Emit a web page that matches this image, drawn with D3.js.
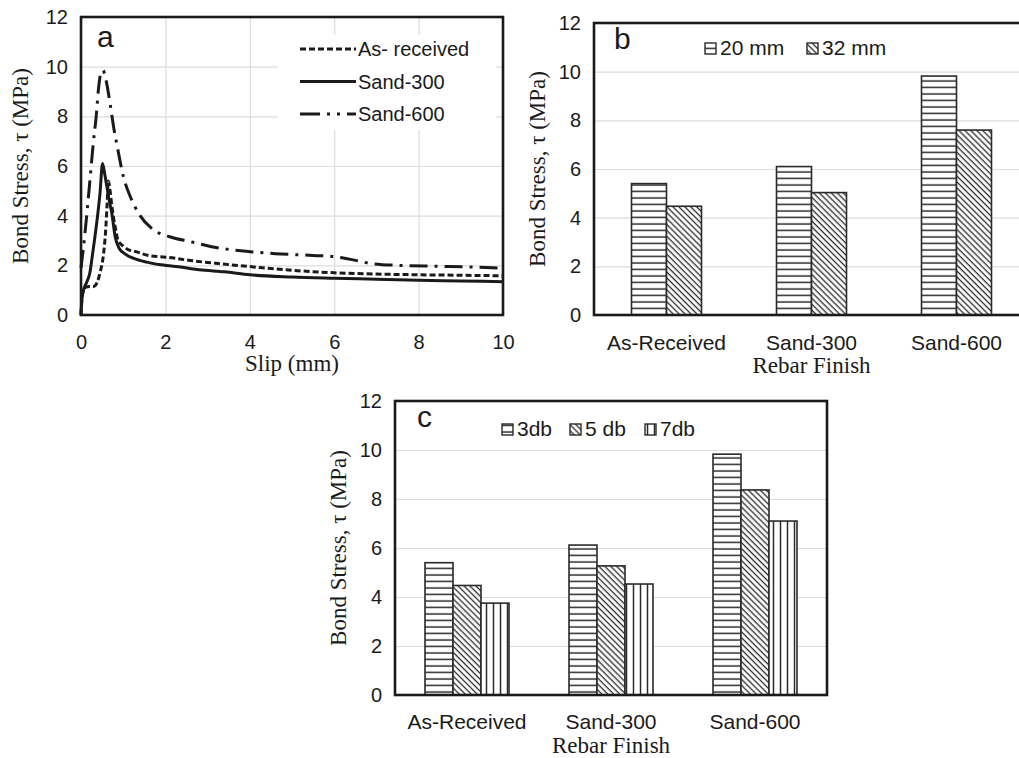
<!DOCTYPE html>
<html lang="en">
<head>
<meta charset="UTF-8">
<title>Bond stress</title>
<script src="https://d3js.org/d3.v7.min.js"></script>
<style>
  body { margin: 0; background: #fff; }
  .num text { font-family: "Liberation Sans", Arial, sans-serif; font-size: 20px; fill: #1a1a1a; }
  .cat text { font-family: "Liberation Sans", Arial, sans-serif; font-size: 21px; fill: #1a1a1a; }
  .num path, .num line, .cat path, .cat line { display: none; }
  .grid line { stroke: #dcdcdc; stroke-width: 1.2px; }
  .grid path { display: none; }
  .serif { font-family: "Liberation Serif", "Times New Roman", serif; font-size: 23px; fill: #1a1a1a; }
  .sans { font-family: "Liberation Sans", Arial, sans-serif; fill: #1a1a1a; }
</style>
</head>
<body>
<svg id="chart" width="1019" height="758"></svg>
<script>
// ---- data (a) slip curves, [slip mm, stress MPa]
const asReceived = [[0,0],[0.02,0.6],[0.06,1.0],[0.12,1.12],[0.2,1.15],[0.3,1.15],[0.38,1.3],[0.45,1.7],[0.53,2.4],[0.58,3.3],[0.62,4.5],[0.65,5.4],[0.69,5.0],[0.73,4.4],[0.81,3.55],[0.88,3.0],[1.0,2.78],[1.1,2.65],[1.3,2.55],[1.64,2.38],[2.0,2.33],[2.66,2.18],[3.2,2.08],[4.0,1.95],[5.0,1.8],[6.0,1.7],[7.0,1.65],[8.0,1.62],[9.0,1.6],[10,1.58]];
const sand300 = [[0,0],[0.02,0.6],[0.06,1.0],[0.13,1.3],[0.21,1.7],[0.27,2.4],[0.33,3.15],[0.4,4.1],[0.45,4.9],[0.51,6.1],[0.56,5.7],[0.61,5.2],[0.67,4.6],[0.73,4.1],[0.81,3.15],[0.9,2.7],[1.05,2.45],[1.25,2.28],[1.55,2.13],[1.9,2.02],[2.4,1.92],[2.8,1.82],[3.4,1.74],[4.0,1.62],[5.0,1.53],[6.0,1.48],[7.0,1.44],[8.0,1.4],[9.0,1.37],[10,1.34]];
const sand600 = [[0,1.9],[0.05,2.6],[0.1,3.4],[0.2,5.2],[0.29,6.9],[0.36,8.0],[0.42,9.2],[0.48,9.8],[0.52,9.85],[0.6,9.4],[0.69,8.5],[0.78,7.5],[0.88,6.6],[1.0,5.6],[1.16,4.8],[1.4,4.0],[1.7,3.45],[2.1,3.15],[2.6,2.95],[3.2,2.72],[4.0,2.55],[4.6,2.47],[5.5,2.4],[6.0,2.35],[6.45,2.22],[6.85,2.08],[7.5,2.0],[8.5,1.96],[9.3,1.93],[10,1.88]];
const curveNames = ["As- received", "Sand-300", "Sand-600"];
const slipTicks = [0, 2, 4, 6, 8, 10];
const stressTicks = [0, 2, 4, 6, 8, 10, 12];

// ---- data (b) and (c)
const finishes = ["As-Received", "Sand-300", "Sand-600"];
const sizeNames = ["20 mm", "32 mm"];
const size20 = [5.4, 6.1, 9.82];
const size32 = [4.47, 5.03, 7.6];
const embedNames = ["3db", "5 db", "7db"];
const embed3 = [5.4, 6.12, 9.83];
const embed5 = [4.47, 5.27, 8.37];
const embed7 = [3.75, 4.53, 7.1];

const svg = d3.select("#chart");
const ink = "#1a1a1a";

// patterns
const defs = svg.append("defs");
const ph = defs.append("pattern").attr("id", "hatchH").attr("patternUnits", "userSpaceOnUse")
  .attr("width", 10).attr("height", 6.5);
ph.append("rect").attr("width", 10).attr("height", 6.5).attr("fill", "#fff");
ph.append("line").attr("x1", 0).attr("x2", 10).attr("y1", 3).attr("y2", 3).attr("stroke", "#2a2a2a").attr("stroke-width", 1.5);

const pd = defs.append("pattern").attr("id", "hatchD").attr("patternUnits", "userSpaceOnUse")
  .attr("width", 4.2).attr("height", 10).attr("patternTransform", "rotate(-45)");
pd.append("rect").attr("width", 4.2).attr("height", 10).attr("fill", "#fff");
pd.append("line").attr("x1", 2).attr("x2", 2).attr("y1", 0).attr("y2", 10).attr("stroke", "#2a2a2a").attr("stroke-width", 1.3);

const pv = defs.append("pattern").attr("id", "hatchV").attr("patternUnits", "userSpaceOnUse")
  .attr("width", 7).attr("height", 10);
pv.append("rect").attr("width", 7).attr("height", 10).attr("fill", "#fff");
pv.append("line").attr("x1", 3.5).attr("x2", 3.5).attr("y1", 0).attr("y2", 10).attr("stroke", "#2a2a2a").attr("stroke-width", 1.5);

// ================= panel a =================
const ax = d3.scaleLinear().domain([0, 10]).range([81, 503]);
const ay = d3.scaleLinear().domain([0, 12]).range([315, 17]);

svg.append("g").attr("class", "grid").attr("transform", "translate(81,0)")
  .call(d3.axisLeft(ay).tickValues(stressTicks).tickSize(-(503 - 81)).tickFormat(""));
svg.append("g").attr("class", "grid").attr("transform", "translate(0,315)")
  .call(d3.axisBottom(ax).tickValues(slipTicks).tickSizeInner(-(315 - 17)).tickFormat(""));

// legend background hides grid
svg.append("rect").attr("x", 278).attr("y", 35).attr("width", 218).attr("height", 95).attr("fill", "#fff");

const line = d3.line().x(d => ax(d[0])).y(d => ay(d[1])).curve(d3.curveMonotoneX);
const curveData = [asReceived, sand300, sand600];
const dashes = ["6,3", null, "18,7,3,7"];
svg.append("g").selectAll("path").data(curveData).join("path")
  .attr("d", line).attr("fill", "none").attr("stroke", ink).attr("stroke-width", 3)
  .attr("stroke-dasharray", (d, i) => dashes[i]);

svg.append("g").attr("class", "num").attr("transform", "translate(81,0)")
  .call(d3.axisLeft(ay).tickValues(stressTicks).tickSize(0).tickPadding(13));
svg.append("g").attr("class", "num").attr("transform", "translate(0,315)")
  .call(d3.axisBottom(ax).tickValues(slipTicks).tickSize(0).tickPadding(20));

svg.append("rect").attr("x", 81).attr("y", 17).attr("width", 503 - 81).attr("height", 315 - 17)
  .attr("fill", "none").attr("stroke", ink).attr("stroke-width", 2.6);

// legend a
const legA = svg.append("g");
curveNames.forEach((name, i) => {
  const y = 49 + i * 32.5;
  legA.append("line").attr("x1", 300).attr("x2", 356).attr("y1", y).attr("y2", y)
    .attr("stroke", ink).attr("stroke-width", 2.8).attr("stroke-dasharray", i === 2 ? "20,7,3,7,3,7" : dashes[i]);
  legA.append("text").attr("class", "sans").attr("x", 358).attr("y", y + 7)
    .style("font-size", "20px").text(name);
});

svg.append("text").attr("class", "sans").attr("x", 97).attr("y", 47).style("font-size", "30px").text("a");
svg.append("text").attr("class", "serif").attr("x", 292).attr("y", 371).attr("text-anchor", "middle").text("Slip (mm)");
svg.append("text").attr("class", "serif").attr("text-anchor", "middle").attr("dy", "0.35em")
  .attr("transform", "translate(20,166) rotate(-90)").text("Bond Stress, \u03c4 (MPa)");

// ================= bar panels =================
function barPanel(opt) {
  const x = d3.scaleBand().domain(finishes).range([opt.left, opt.right])
    .paddingInner(opt.pad).paddingOuter(opt.pad / 2);
  const y = d3.scaleLinear().domain([0, 12]).range([opt.bottom, opt.top]);
  const xs = d3.scaleBand().domain(opt.names).range([0, x.bandwidth()]);

  svg.append("g").attr("class", "grid").attr("transform", `translate(${opt.left},0)`)
    .call(d3.axisLeft(y).tickValues(stressTicks).tickSize(-(opt.right - opt.left)).tickFormat(""));

  const g = svg.append("g");
  opt.series.forEach((vals, si) => {
    g.append("g").selectAll("rect").data(vals).join("rect")
      .attr("x", (d, i) => x(finishes[i]) + xs(opt.names[si]))
      .attr("y", d => y(d))
      .attr("width", xs.bandwidth())
      .attr("height", d => y(0) - y(d))
      .attr("fill", `url(#${opt.fills[si]})`)
      .attr("stroke", "#2a2a2a").attr("stroke-width", 1.6);
  });

  svg.append("g").attr("class", "num").attr("transform", `translate(${opt.left},0)`)
    .call(d3.axisLeft(y).tickValues(stressTicks).tickSize(0).tickPadding(13));
  svg.append("g").attr("class", "cat").attr("transform", `translate(0,${opt.bottom})`)
    .call(d3.axisBottom(x).tickSize(0).tickPadding(opt.catPad));

  svg.append("rect").attr("x", opt.left).attr("y", opt.top)
    .attr("width", opt.right - opt.left).attr("height", opt.bottom - opt.top)
    .attr("fill", "none").attr("stroke", ink).attr("stroke-width", 2.6);

  // legend
  opt.names.forEach((name, i) => {
    const lx = opt.legendX[i];
    svg.append("rect").attr("x", lx).attr("y", opt.legendY - 5).attr("width", 11).attr("height", 11)
      .attr("fill", `url(#${opt.fills[i]})`).attr("stroke", "#2a2a2a").attr("stroke-width", 1.4);
    svg.append("text").attr("class", "sans").attr("x", lx + 15).attr("y", opt.legendY + 7)
      .style("font-size", "21px").text(name);
  });

  svg.append("text").attr("class", "sans").attr("x", opt.letterX).attr("y", opt.top + 26)
    .style("font-size", "30px").text(opt.letter);
  svg.append("text").attr("class", "serif").attr("text-anchor", "middle")
    .attr("x", (opt.left + opt.right) / 2).attr("y", opt.titleY).text("Rebar Finish");
  svg.append("text").attr("class", "serif").attr("text-anchor", "middle").attr("dy", "0.35em")
    .attr("transform", `translate(${opt.left - 57},${(opt.top + opt.bottom) / 2}) rotate(-90)`)
    .text("Bond Stress, \u03c4 (MPa)");
}

barPanel({
  left: 594, right: 1029, top: 23, bottom: 315, pad: 75 / 145, catPad: 20,
  names: sizeNames, series: [size20, size32], fills: ["hatchH", "hatchD"],
  legendX: [705, 807], legendY: 48, letter: "b", letterX: 614, titleY: 373
});

barPanel({
  left: 395, right: 827, top: 401, bottom: 695, pad: 60 / 144, catPad: 19,
  names: embedNames, series: [embed3, embed5, embed7], fills: ["hatchH", "hatchD", "hatchV"],
  legendX: [502, 570, 645], legendY: 429, letter: "c", letterX: 417, titleY: 753
});
</script>
</body>
</html>
